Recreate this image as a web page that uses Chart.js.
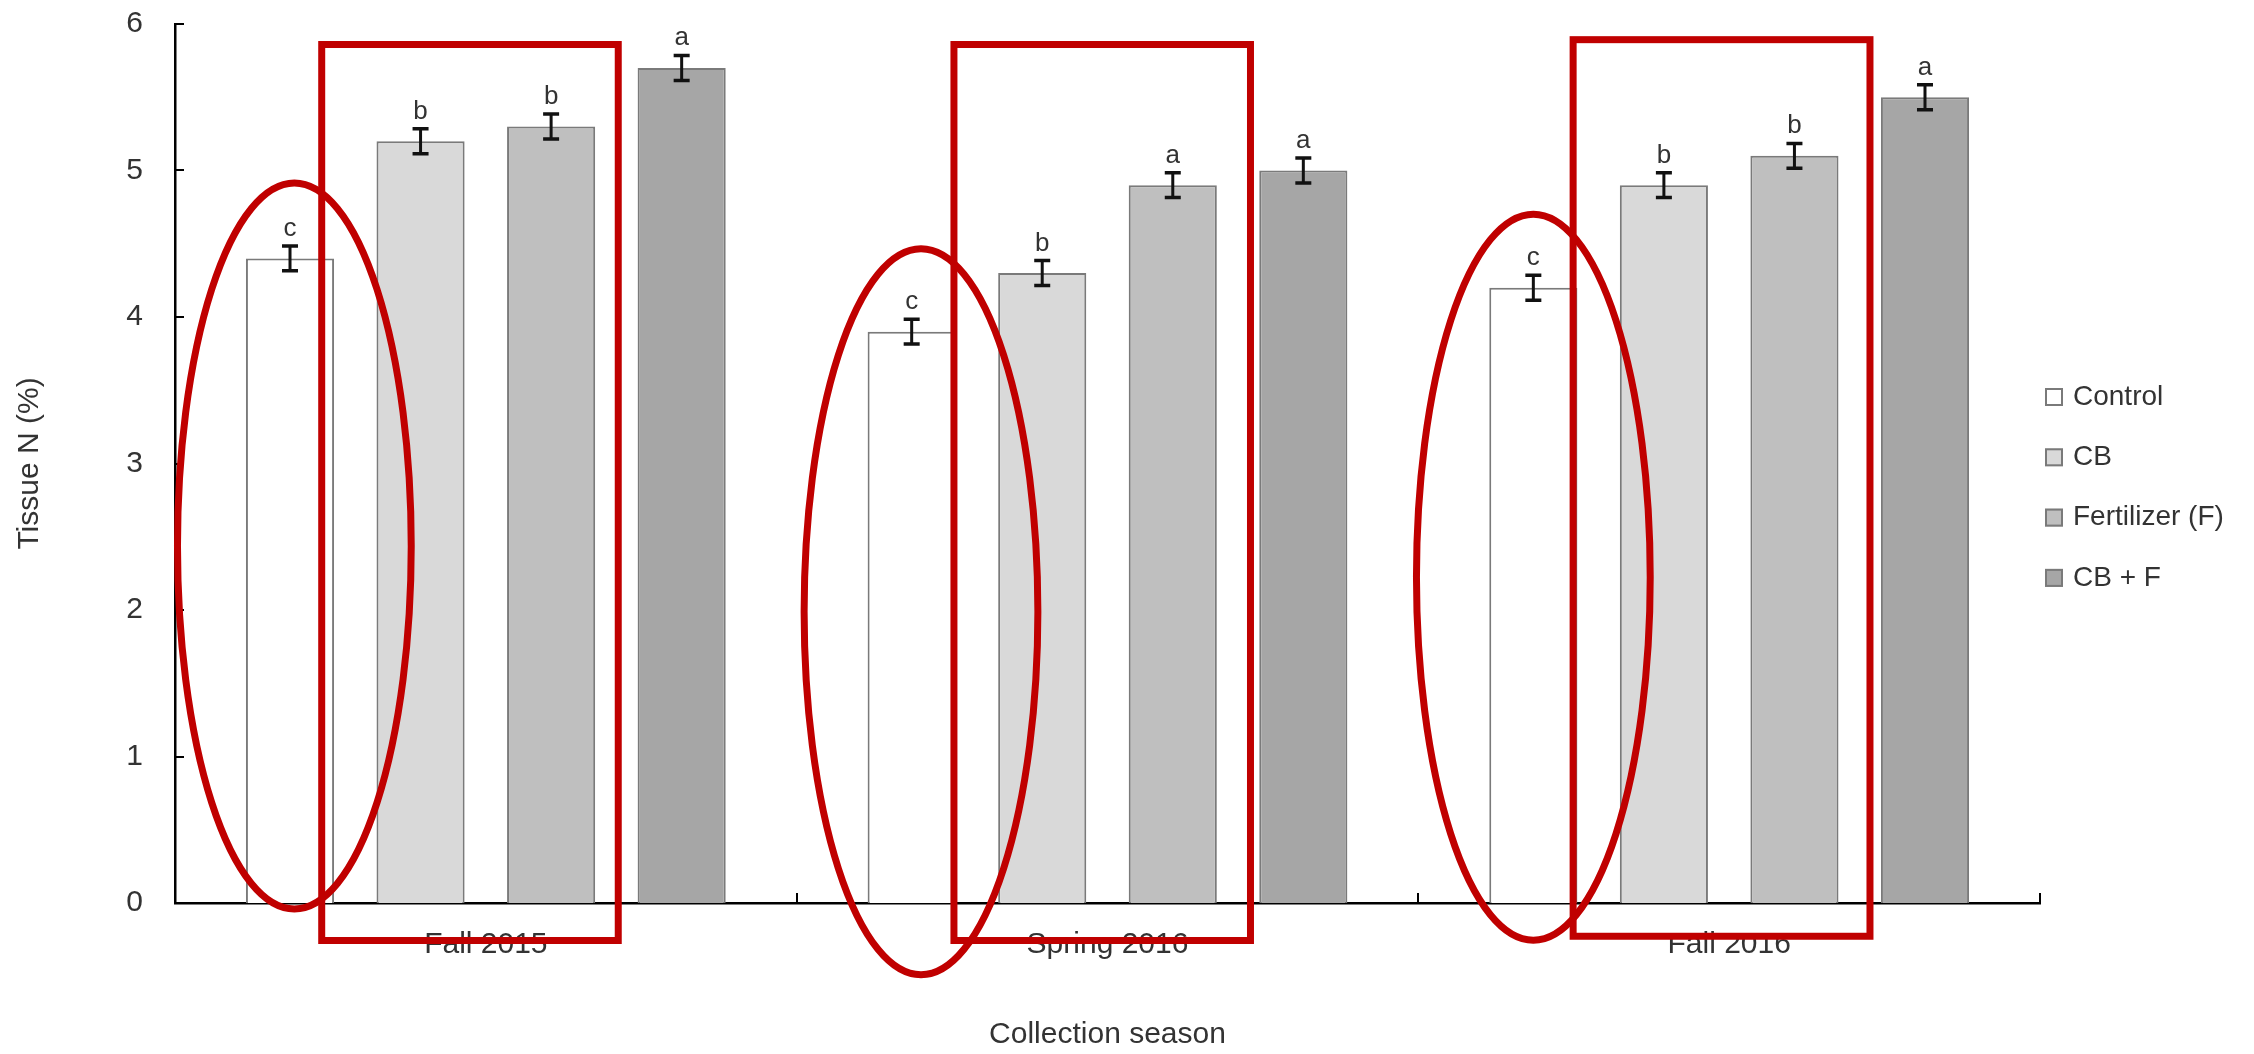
<!DOCTYPE html>
<html><head><meta charset="utf-8">
<script src="https://cdn.jsdelivr.net/npm/chart.js@4.4.1/dist/chart.umd.min.js"></script>
<style>html,body{margin:0;padding:0;background:#fff;overflow:hidden}canvas{display:block}</style>
</head><body>
<canvas id="c" width="2254" height="1054"></canvas>
<script>
// ---- data ----
const categories = ['Fall 2015', 'Spring 2016', 'Fall 2016'];
const seriesNames = ['Control', 'CB', 'Fertilizer (F)', 'CB + F'];
const controlValues = [4.4, 3.9, 4.2];
const cbValues = [5.2, 4.3, 4.9];
const fertValues = [5.3, 4.9, 5.1];
const cbfValues = [5.7, 5.0, 5.5];
const controlErr = [0.085, 0.085, 0.085];
const cbErr = [0.085, 0.085, 0.085];
const fertErr = [0.085, 0.085, 0.085];
const cbfErr = [0.085, 0.085, 0.085];
const controlLetters = ['c', 'c', 'c'];
const cbLetters = ['b', 'b', 'b'];
const fertLetters = ['b', 'a', 'b'];
const cbfLetters = ['a', 'a', 'a'];
const yTicks = [0, 1, 2, 3, 4, 5, 6];
const xTitle = 'Collection season';
const yTitle = 'Tissue N (%)';

// red annotations, in axis units: [category, leftOffset, rightOffset, topValue, bottomValue]
const redRects = [[0, -0.264, 0.213, 5.86, -0.256], [1, -0.247, 0.230, 5.86, -0.256], [2, -0.251, 0.2265, 5.893, -0.227]];
// [category, centerOffset, centerValue, radiusCategories, radiusValue]
const redEllipses = [[0, -0.308, 2.437, 0.188, 2.478], [1, -0.300, 1.988, 0.188, 2.478], [2, -0.315, 2.224, 0.188, 2.478]];

const TEXT = '#333333';
const FONT = "'Liberation Sans', Arial, sans-serif";
Chart.defaults.font.family = FONT;
Chart.defaults.color = TEXT;

const fills = ['#ffffff', '#d9d9d9', '#bfbfbf', '#a6a6a6'];
const vals = [controlValues, cbValues, fertValues, cbfValues];
const errs = [controlErr, cbErr, fertErr, cbfErr];
const letters = [controlLetters, cbLetters, fertLetters, cbfLetters];

const datasets = seriesNames.map((n, i) => ({
  label: n,
  data: vals[i],
  err: errs[i],
  letters: letters[i],
  backgroundColor: fills[i],
  borderColor: '#7a7a7a',
  borderWidth: 2,
  categoryPercentage: 0.84,
  barPercentage: 0.675
}));

const errorBarPlugin = {
  id: 'errbars',
  afterDatasetsDraw(chart) {
    const ctx = chart.ctx, y = chart.scales.y;
    chart.data.datasets.forEach((ds, di) => {
      const meta = chart.getDatasetMeta(di);
      meta.data.forEach((bar, i) => {
        const v = ds.data[i], e = ds.err[i];
        const yt = y.getPixelForValue(v + e), yb = y.getPixelForValue(v - e);
        ctx.save();
        ctx.strokeStyle = '#111';
        ctx.lineWidth = 3;
        ctx.beginPath();
        ctx.moveTo(bar.x, yt); ctx.lineTo(bar.x, yb);
        ctx.stroke();
        ctx.lineWidth = 3.5;
        ctx.beginPath();
        ctx.moveTo(bar.x - 8, yt); ctx.lineTo(bar.x + 8, yt);
        ctx.moveTo(bar.x - 8, yb); ctx.lineTo(bar.x + 8, yb);
        ctx.stroke();
        ctx.fillStyle = TEXT;
        ctx.font = '26px ' + FONT;
        ctx.textAlign = 'center';
        ctx.textBaseline = 'alphabetic';
        ctx.fillText(ds.letters[i], bar.x, yt - 10);
        ctx.restore();
      });
    });
  }
};

const overlayPlugin = {
  id: 'overlay',
  afterDraw(chart) {
    const ctx = chart.ctx, x = chart.scales.x, y = chart.scales.y;
    const a = chart.chartArea;
    ctx.save();
    // inside tick marks
    ctx.strokeStyle = '#000';
    ctx.lineWidth = 2;
    ctx.beginPath();
    yTicks.forEach(v => {
      const py = Math.round(y.getPixelForValue(v));
      ctx.moveTo(a.left, py); ctx.lineTo(a.left + 9, py);
    });
    for (let i = 0; i <= categories.length; i++) {
      const px = Math.round(x.getPixelForValue(i - 0.5));
      ctx.moveTo(px, a.bottom); ctx.lineTo(px, a.bottom - 10);
    }
    ctx.stroke();

    // legend
    const lx = 2045, ly0 = 397, ldy = 60.3;
    chart.data.datasets.forEach((ds, i) => {
      const cy = ly0 + i * ldy;
      ctx.fillStyle = ds.backgroundColor;
      ctx.fillRect(lx, cy - 9, 18, 18);
      ctx.strokeStyle = '#7a7a7a';
      ctx.lineWidth = 2;
      ctx.strokeRect(lx + 1, cy - 8, 16, 16);
      ctx.fillStyle = TEXT;
      ctx.font = '28px ' + FONT;
      ctx.textAlign = 'left';
      ctx.textBaseline = 'middle';
      ctx.fillText(ds.label, 2073, cy);
    });

    // red annotations
    ctx.strokeStyle = '#c00000';
    ctx.lineWidth = 7;
    redRects.forEach(r => {
      const x0 = x.getPixelForValue(r[0] + r[1]), x1 = x.getPixelForValue(r[0] + r[2]);
      const y0 = y.getPixelForValue(r[3]), y1 = y.getPixelForValue(r[4]);
      ctx.strokeRect(x0, y0, x1 - x0, y1 - y0);
    });
    redEllipses.forEach(e => {
      const cx = x.getPixelForValue(e[0] + e[1]);
      const rx = x.getPixelForValue(e[0] + e[1] + e[3]) - cx;
      const cy = y.getPixelForValue(e[2]);
      const ry = cy - y.getPixelForValue(e[2] + e[4]);
      ctx.beginPath();
      ctx.ellipse(cx, cy, rx, ry, 0, 0, Math.PI * 2);
      ctx.stroke();
    });
    ctx.restore();
  }
};

new Chart(document.getElementById('c'), {
  type: 'bar',
  data: { labels: categories, datasets },
  options: {
    responsive: false,
    devicePixelRatio: 1,
    animation: false,
    layout: { padding: { top: 24, right: 214, bottom: 0, left: 0 } },
    plugins: { legend: { display: false }, tooltip: { enabled: false } },
    scales: {
      x: {
        z: 1,
        grid: { display: false, drawTicks: false },
        border: { display: true, color: '#000', width: 2.5 },
        ticks: { padding: 24, font: { size: 30 }, color: TEXT },
        title: { display: true, text: xTitle, font: { size: 30 }, color: TEXT, padding: { top: 0, bottom: 1 } },
        afterFit: s => { s.height = 151; }
      },
      y: {
        z: 1,
        min: 0, max: 6,
        grid: { display: false, drawTicks: true, tickLength: 32, tickColor: 'rgba(0,0,0,0)' },
        border: { display: true, color: '#000', width: 2.5 },
        ticks: { stepSize: 1, padding: 0, font: { size: 30 }, color: TEXT },
        afterBuildTicks: s => { s.ticks = yTicks.map(v => ({ value: v })); },
        title: { display: true, text: yTitle, font: { size: 30 }, color: TEXT, padding: { top: 12, bottom: 0 } },
        afterFit: s => { s.width = 175; }
      }
    }
  },
  plugins: [errorBarPlugin, overlayPlugin]
});
</script>
</body></html>
